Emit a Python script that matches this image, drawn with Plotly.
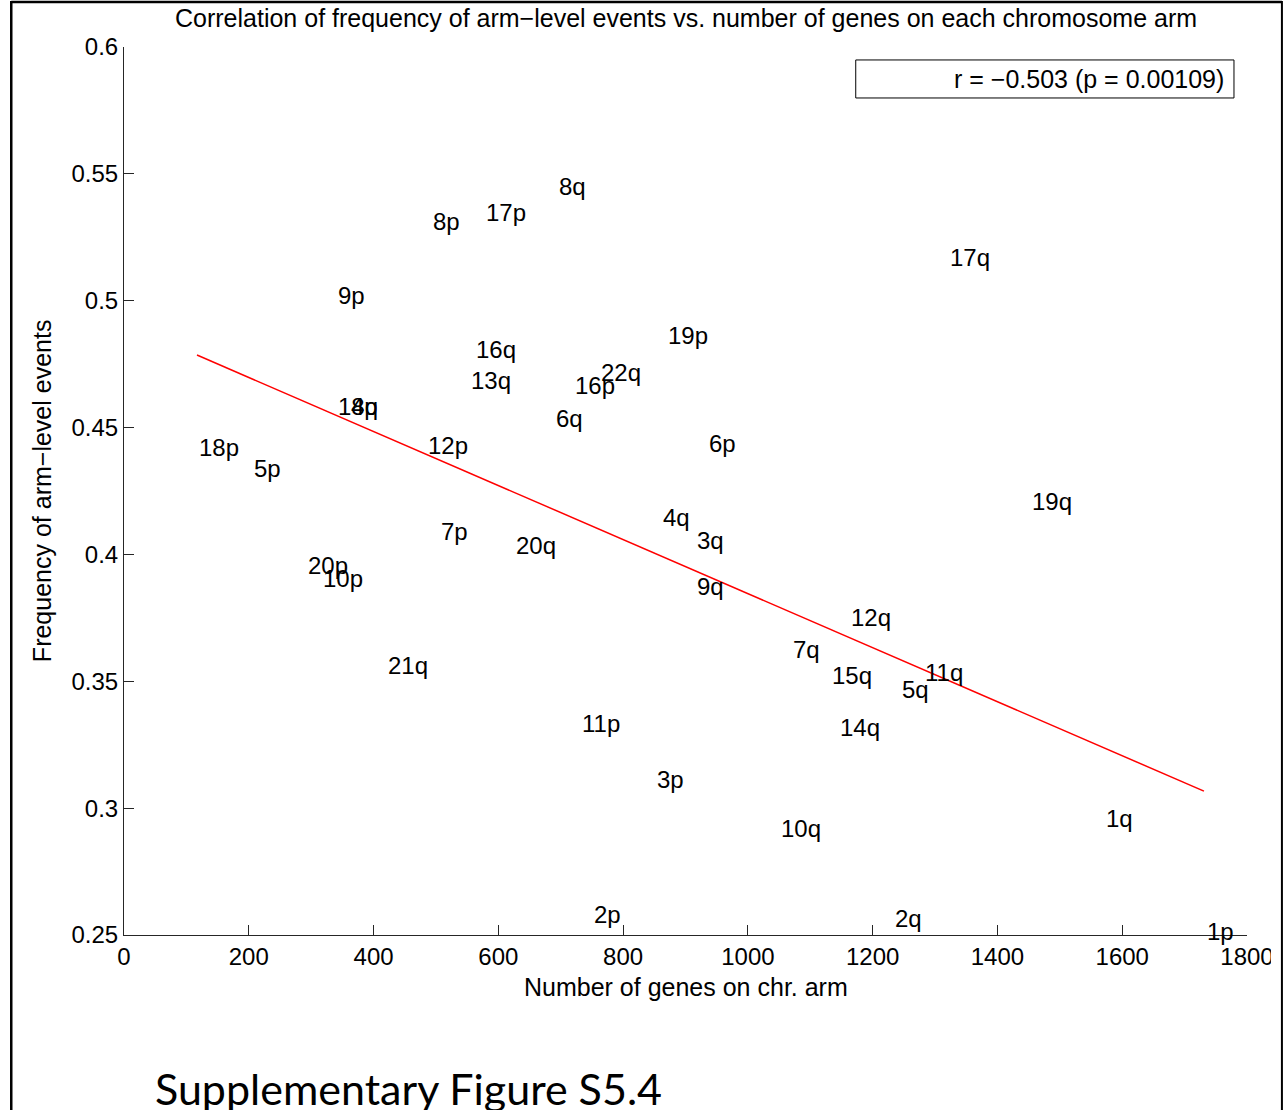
import plotly.graph_objects as go

# ---- data ----
arms = ["8q", "17p", "8p", "17q", "9p", "19p", "16q", "13q", "22q", "16p",
        "18q", "4p", "6q", "6p", "12p", "18p", "5p", "19q", "4q", "7p",
        "3q", "20q", "20p", "10p", "9q", "12q", "7q", "21q", "15q", "11q",
        "5q", "14q", "11p", "3p", "1q", "10q", "2p", "2q", "1p"]
n_genes = [696, 578, 494, 1322, 342, 870, 563, 555, 763, 722,
           342, 363, 691, 936, 486, 118, 206, 1453, 862, 507,
           917, 626, 294, 318, 917, 1163, 1070, 422, 1134, 1282,
           1246, 1146, 733, 853, 1573, 1051, 752, 1234, 1734]
freq = [0.5452, 0.5346, 0.5314, 0.5172, 0.5019, 0.4861, 0.4806, 0.4687, 0.4719, 0.4664,
        0.4585, 0.4585, 0.4534, 0.4439, 0.4431, 0.4423, 0.4337, 0.4207, 0.4147, 0.4092,
        0.4053, 0.4037, 0.3958, 0.3907, 0.3875, 0.3753, 0.3627, 0.3564, 0.3521, 0.3536,
        0.3466, 0.3316, 0.3335, 0.3111, 0.2961, 0.2918, 0.2582, 0.2567, 0.2512]

# regression line as drawn in the reference (end points)
fit_genes = [117, 1731]
fit_freq = [0.4786, 0.3067]

x_ticks = [0, 200, 400, 600, 800, 1000, 1200, 1400, 1600, 1800]
y_ticks = [0.25, 0.3, 0.35, 0.4, 0.45, 0.5, 0.55, 0.6]
y_tick_text = ["0.25", "0.3", "0.35", "0.4", "0.45", "0.5", "0.55", "0.6"]

title_text = "Correlation of frequency of arm\u2212level events vs. number of genes on each chromosome arm"
x_title = "Number of genes on chr. arm"
y_title = "Frequency of arm\u2212level events"
stat_text = "r = \u22120.503 (p = 0.00109)"
caption = "Supplementary Figure S5.4"

FONT = "Liberation Sans, Arial, sans-serif"

fig = go.Figure()
fig.add_trace(go.Scatter(x=fit_genes, y=fit_freq, mode="lines",
                         line=dict(color="#ff0000", width=1.5),
                         showlegend=False, hoverinfo="skip"))

annotations = []
for lab, xv, yv in zip(arms, n_genes, freq):
    annotations.append(dict(x=xv, y=yv, xref="x", yref="y", text=lab,
                            showarrow=False, xanchor="left", yanchor="middle",
                            borderpad=0,
                            font=dict(family=FONT, size=24, color="black")))

# title
annotations.append(dict(x=0.5, y=1.0327, xref="paper", yref="paper", text=title_text,
                        showarrow=False, xanchor="center", yanchor="middle",
                        font=dict(family=FONT, size=25, color="black")))
# axis titles
annotations.append(dict(x=0.5, y=-0.0586, xref="paper", yref="paper", text=x_title,
                        showarrow=False, xanchor="center", yanchor="middle",
                        font=dict(family=FONT, size=25, color="black")))
annotations.append(dict(x=-0.0729, y=0.5, xref="paper", yref="paper", text=y_title,
                        showarrow=False, xanchor="center", yanchor="middle", textangle=-90,
                        font=dict(family=FONT, size=25, color="black")))
# stat box text
annotations.append(dict(x=0.9813, y=0.964, xref="paper", yref="paper", text=stat_text,
                        showarrow=False, xanchor="right", yanchor="middle",
                        font=dict(family=FONT, size=25, color="black")))
# caption
annotations.append(dict(x=0.0258, y=-0.1723, xref="paper", yref="paper", text=caption,
                        showarrow=False, xanchor="left", yanchor="middle",
                        font=dict(family="Lato, Noto Sans, sans-serif", size=43, color="black")))

shapes = [
    # stat box
    dict(type="rect", xref="paper", yref="paper", x0=0.6516, x1=0.9884, y0=0.9426, y1=0.9854,
         line=dict(color="black", width=1), fillcolor="rgba(0,0,0,0)"),
    # white strip clipping the last tick label like the reference
    dict(type="rect", xref="paper", yref="paper", x0=1.0213, x1=1.0293, y0=-0.1, y1=0.05,
         line=dict(width=0), fillcolor="white", layer="above"),
    # page frame
    dict(type="line", xref="paper", yref="paper", x0=-0.1004, x1=-0.1004, y0=-0.25, y1=1.0518,
         line=dict(color="black", width=2.5)),
    dict(type="line", xref="paper", yref="paper", x0=-0.1004, x1=1.0311, y0=1.0507, y1=1.0507,
         line=dict(color="black", width=2.5)),
    dict(type="line", xref="paper", yref="paper", x0=1.0311, x1=1.0311, y0=-0.25, y1=1.0518,
         line=dict(color="black", width=2)),
]

fig.update_layout(
    width=1286, height=1110,
    margin=dict(l=124, r=37, t=47, b=175),
    paper_bgcolor="white", plot_bgcolor="white",
    showlegend=False,
    annotations=annotations,
    shapes=shapes,
    xaxis=dict(range=[0, 1800], tickvals=x_ticks, showgrid=False, zeroline=False,
               showline=True, linecolor="#262626", linewidth=1,
               ticks="inside", ticklen=10, tickcolor="#262626",
               tickfont=dict(family=FONT, size=24, color="black")),
    yaxis=dict(range=[0.25, 0.6], tickvals=y_ticks, ticktext=y_tick_text,
               showgrid=False, zeroline=False,
               showline=True, linecolor="#262626", linewidth=1,
               ticks="inside", ticklen=10, tickcolor="#262626",
               tickfont=dict(family=FONT, size=24, color="black")),
)

fig.write_html("out.html", config={"displayModeBar": False},
               post_script="document.body.style.margin='0';")
